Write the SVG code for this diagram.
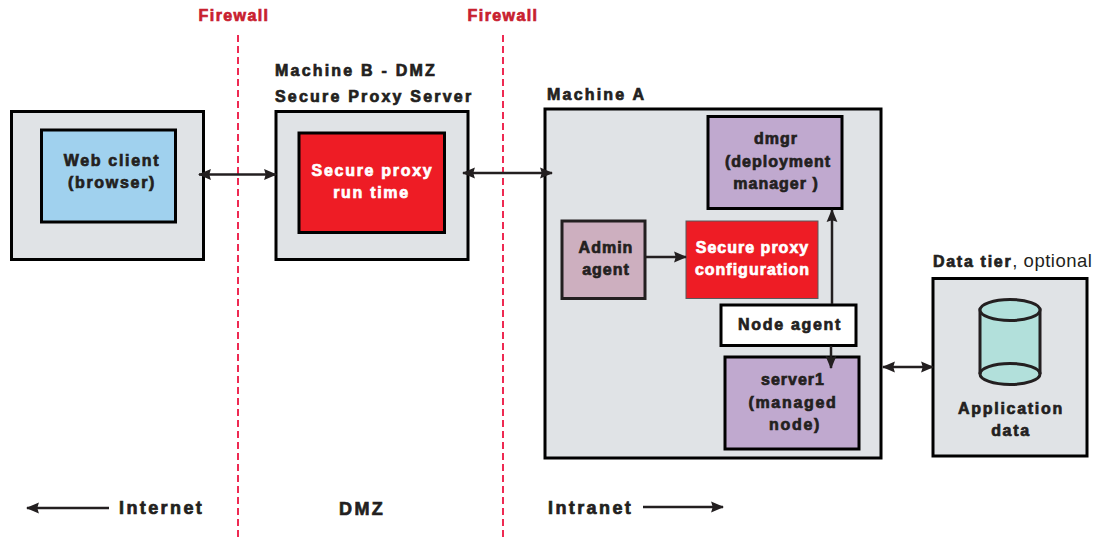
<svg xmlns="http://www.w3.org/2000/svg" width="1097" height="539" viewBox="0 0 1097 539">
<style>
text{font-family:"Liberation Sans",Arial,sans-serif;font-weight:700;font-size:16px;letter-spacing:1px;fill:#231f20;stroke:#231f20;stroke-width:.7px}
.c{text-anchor:middle}
.s{letter-spacing:1.7px}
.h{letter-spacing:2.2px}
.z{font-size:18px;letter-spacing:2.4px}
.w{fill:#fff;stroke:#fff}
.r{fill:#c8202f;stroke:#c8202f;letter-spacing:1.4px}
.box{fill:#e0e3e6;stroke:#000;stroke-width:3}
.in{stroke:#000;stroke-width:3}
.fw{stroke:#ee2a52;stroke-width:2;stroke-dasharray:7 4;fill:none}
.l{stroke:#231f20;stroke-width:2.5;fill:none}
</style>
<defs>
<marker id="a" viewBox="0 0 12 10" refX="11" refY="5" markerWidth="13" markerHeight="12" markerUnits="userSpaceOnUse" orient="auto-start-reverse"><path d="M0 0L12 5L0 10L1.500 5Z" fill="#231f20"/></marker>
</defs>
<g id="firewalls">
<line class="fw" x1="238" y1="35" x2="238" y2="539"/>
<line class="fw" x1="503" y1="35" x2="503" y2="539"/>
<text class="r c" x="234" y="21">Firewall</text>
<text class="r c" x="503" y="21">Firewall</text>
</g>
<g id="client">
<rect class="box" x="11.500" y="111.500" width="192" height="148"/>
<rect class="in" x="41.500" y="130" width="134" height="92" fill="#a0d1ee"/>
<text class="c s" x="112" y="166">Web client</text>
<text class="c s" x="112" y="188">(browser)</text>
</g>
<g id="machine-b">
<text class="h" x="275" y="76">Machine B - DMZ</text>
<text class="h" x="275" y="102">Secure Proxy Server</text>
<rect class="box" x="276" y="111.500" width="192" height="148"/>
<rect class="in" x="299" y="133" width="145.500" height="99.500" fill="#ee1c25"/>
<text class="c w s" x="372.500" y="176">Secure proxy</text>
<text class="c w s" x="371.500" y="198">run time</text>
</g>
<g id="machine-a">
<text class="h" x="547" y="100">Machine A</text>
<rect class="box" x="545" y="109" width="336" height="349"/>
</g>
<g id="dmgr">
<rect class="in" x="708" y="116.500" width="134" height="92" fill="#c0a9cf"/>
<text class="c" x="776" y="144">dmgr</text>
<text class="c" x="778" y="167">(deployment</text>
<text class="c" x="776" y="189">manager )</text>
</g>
<g id="admin-agent">
<rect x="562" y="221" width="83" height="77.500" fill="#cdafbf" stroke="#231f20" stroke-width="3"/>
<text class="c" x="606" y="253">Admin</text>
<text class="c" x="606" y="275">agent</text>
</g>
<g id="proxy-config">
<rect x="686" y="221" width="132" height="77.500" fill="#ee1c25" stroke="#58595b" stroke-width="1"/>
<text class="c w" x="752.500" y="253">Secure proxy</text>
<text class="c w" x="752.500" y="275">configuration</text>
</g>
<g id="node-agent">
<rect x="721" y="305" width="135" height="40.500" fill="#fff" stroke="#000" stroke-width="3"/>
<text class="c s" x="790" y="330">Node agent</text>
</g>
<g id="server1">
<rect class="in" x="725" y="357" width="134" height="92" fill="#c0a9cf"/>
<text class="c" x="793" y="385">server1</text>
<text class="c s" x="793" y="408">(managed</text>
<text class="c s" x="795" y="430">node)</text>
</g>
<g id="data-tier">
<text class="s" x="933" y="267">Data tier<tspan style="font-weight:400;stroke:none;letter-spacing:.5px;font-size:18.500px">, optional</tspan></text>
<rect class="box" x="933" y="278.500" width="154" height="177.500"/>
<path d="M980 310V374A30 10.500 0 0 0 1040 374V310Z" fill="#b2e0db" stroke="#231f20" stroke-width="3"/>
<ellipse cx="1010" cy="310" rx="30" ry="10.500" fill="#b2e0db" stroke="#231f20" stroke-width="3"/>
<path d="M980 374A30 10.500 0 0 1 1040 374" fill="none" stroke="#231f20" stroke-width="3"/>
<text class="c s" x="1011" y="414">Application</text>
<text class="c s" x="1011" y="436">data</text>
</g>
<g id="connectors">
<line class="l" x1="199" y1="174.500" x2="276" y2="174.500" marker-start="url(#a)" marker-end="url(#a)"/>
<line class="l" x1="463" y1="173" x2="552" y2="173" marker-start="url(#a)" marker-end="url(#a)"/>
<line class="l" x1="645" y1="257" x2="686" y2="257" marker-end="url(#a)"/>
<line class="l" x1="832" y1="304" x2="832" y2="210" marker-end="url(#a)"/>
<line class="l" x1="831" y1="346" x2="831" y2="368" marker-end="url(#a)"/>
<line class="l" x1="883" y1="367" x2="933" y2="367" marker-start="url(#a)" marker-end="url(#a)"/>
<line class="l" x1="27" y1="508" x2="109" y2="508" marker-start="url(#a)"/>
<line class="l" x1="643" y1="507" x2="723" y2="507" marker-end="url(#a)"/>
</g>
<g id="zones">
<text class="z" x="119" y="514">Internet</text>
<text class="z" x="339" y="515">DMZ</text>
<text class="z" x="548" y="514">Intranet</text>
</g>
</svg>
